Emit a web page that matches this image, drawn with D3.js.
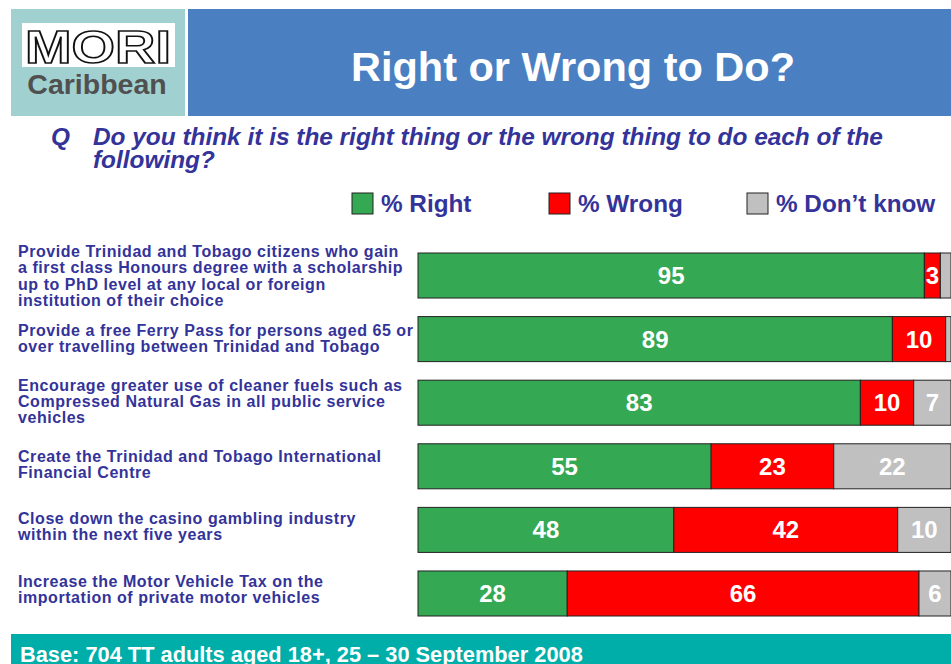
<!DOCTYPE html>
<html><head><meta charset="utf-8">
<script src="https://cdn.jsdelivr.net/npm/d3@7"></script>
<style>body{margin:0;background:#fff;overflow:hidden}svg{display:block}</style>
</head><body><svg id="c" width="951" height="664"></svg>
<script>
const categories = [
  ["Provide Trinidad and Tobago citizens who gain","a first class Honours degree with a scholarship","up to PhD level at any local or foreign","institution of their choice"],
  ["Provide a free Ferry Pass for persons aged 65 or","over travelling between Trinidad and Tobago"],
  ["Encourage greater use of cleaner fuels such as","Compressed Natural Gas in all public service","vehicles"],
  ["Create the Trinidad and Tobago International","Financial Centre"],
  ["Close down the casino gambling industry","within the next five years"],
  ["Increase the Motor Vehicle Tax on the","importation of private motor vehicles"]
];
const right = [95, 89, 83, 55, 48, 28];
const wrong = [3, 10, 10, 23, 42, 66];
const dontKnow = [2, 1, 7, 22, 10, 6];
const seriesNames = ["% Right", "% Wrong", "% Don\u2019t know"];
const seriesColors = ["#35a853", "#ff0000", "#c0c0c0"];

const svg = d3.select("#c");
const navy = "#333399";
const F = "'Liberation Sans', Arial, sans-serif";

// header
svg.append("rect").attr("x",11).attr("y",9).attr("width",174).attr("height",107).attr("fill","#a0d1d0");
svg.append("rect").attr("x",188).attr("y",9).attr("width",763).attr("height",107).attr("fill","#4a80c2");
svg.append("rect").attr("x",22).attr("y",23).attr("width",153).attr("height",44).attr("fill","#fff");
svg.append("text").attr("x",98).attr("y",63).attr("text-anchor","middle")
  .attr("font-family",F).attr("font-weight","bold").attr("font-size",46).attr("fill","#fff").attr("stroke","#111").attr("stroke-width",1.6)
  .attr("textLength",146).attr("lengthAdjust","spacingAndGlyphs").text("MORI");
svg.append("text").attr("x",97).attr("y",94).attr("text-anchor","middle")
  .attr("font-family",F).attr("font-weight","bold").attr("font-size",28.5).attr("fill","#505050").text("Caribbean");
svg.append("text").attr("x",573).attr("y",81).attr("text-anchor","middle")
  .attr("font-family",F).attr("font-weight","bold").attr("font-size",41.5).attr("fill","#fff").text("Right or Wrong to Do?");

// question
const q = svg.append("g").attr("font-family",F).attr("font-weight","bold").attr("font-style","italic").attr("font-size",24.4).attr("fill",navy);
q.append("text").attr("x",51).attr("y",145).text("Q");
q.append("text").attr("x",93).attr("y",145).text("Do you think it is the right thing or the wrong thing to do each of the");
q.append("text").attr("x",93).attr("y",168).text("following?");

// legend
const legX = [352, 549, 747];
const lg = svg.append("g");
seriesNames.forEach((n,i)=>{
  lg.append("rect").attr("x",legX[i]).attr("y",193).attr("width",21).attr("height",21)
    .attr("fill",seriesColors[i]).attr("stroke","#222").attr("stroke-width",1);
  lg.append("text").attr("x",legX[i]+29).attr("y",212).attr("font-family",F).attr("font-weight","bold")
    .attr("font-size",24.3).attr("fill",navy).text(n);
});

// scales
const x = d3.scaleLinear().domain([0,100]).range([418, 951]);
const y = d3.scaleBand().domain(d3.range(categories.length)).range([253, 616]).paddingInner(0.292).paddingOuter(0);
const yLabel = d3.scalePoint().domain(d3.range(categories.length)).range([276, 589.5]);

const rows = categories.map((c,i)=>({i, vals:[right[i], wrong[i], dontKnow[i]]}));
const g = svg.append("g");
rows.forEach(r=>{
  let cum = 0;
  r.vals.forEach((v,k)=>{
    const x0 = x(cum), x1 = x(cum+v);
    g.append("rect").attr("x",x0).attr("y",y(r.i)).attr("width",x1-x0).attr("height",y.bandwidth())
      .attr("fill",seriesColors[k]).attr("stroke","#222").attr("stroke-width",1);
    if (v >= 3) {
      const vis1 = Math.min(x1, 951);
      g.append("text").attr("x",(x0+vis1)/2).attr("y",y(r.i)+y.bandwidth()/2+8.5)
        .attr("text-anchor","middle").attr("font-family",F).attr("font-weight","bold")
        .attr("font-size",24).attr("fill","#fff").text(v);
    }
    cum += v;
  });
  // category label
  const lines = categories[r.i];
  const lh = 16.2;
  const cy = yLabel(r.i);
  const t = g.append("text").attr("font-family",F).attr("font-weight","bold").attr("font-size",16)
    .attr("letter-spacing",0.55).attr("fill",navy);
  lines.forEach((ln,j)=>{
    t.append("tspan").attr("x",18).attr("y",cy - (lines.length-1)*lh/2 + j*lh + 5.5).text(ln);
  });
});

// footer
svg.append("rect").attr("x",11).attr("y",634).attr("width",940).attr("height",30).attr("fill","#00aea9");
svg.append("text").attr("x",20).attr("y",662).attr("font-family",F).attr("font-weight","bold").attr("font-size",21.8)
  .attr("fill","#fff").text("Base: 704 TT adults aged 18+, 25 \u2013 30 September 2008");
</script></body></html>
